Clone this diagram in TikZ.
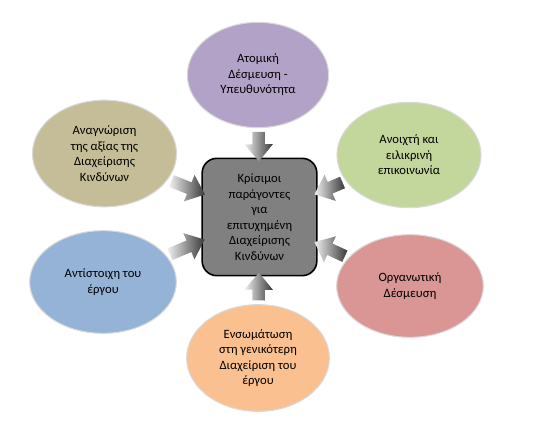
\documentclass[tikz,border=0pt]{standalone}
\usepackage{fontspec}
\setmainfont{Carlito}
\usetikzlibrary{shapes.geometric, shapes.arrows, calc}
\definecolor{hubgray}{HTML}{808080}
\definecolor{purplefill}{HTML}{B3A2C7}
\definecolor{tanfill}{HTML}{C4BD97}
\definecolor{greenfill}{HTML}{C3D69B}
\definecolor{bluefill}{HTML}{95B3D7}
\definecolor{redfill}{HTML}{D99694}
\definecolor{orangefill}{HTML}{FAC090}
\tikzset{
  hub/.style={draw=black, line width=1.2pt, rounded corners=11pt, fill=hubgray,
              minimum width=86pt, minimum height=88pt, align=center, inner sep=2pt,
              font=\fontsize{9.5}{11.6}\selectfont},
  factor/.style={ellipse, draw=gray!30, line width=0.8pt, align=center, inner sep=0pt,
                 font=\fontsize{9.5}{11.6}\selectfont},
  flow/.style={single arrow, draw=none, inner xsep=0pt, inner ysep=4.5pt,
               single arrow head extend=6pt, single arrow tip angle=80,
               left color=gray!12, right color=black!78},
}
% block arrow from the border of #1 to the border of #2
\newcommand{\flowarrow}[2]{%
  \path let \p1=(#1.center), \p2=(#2.center),
            \n1={int(round(atan2(\y2-\y1,\x2-\x1)))}, \n3={int(\n1+180)},
            \p3=(#1.\n1), \p4=(#2.\n3),
            \n2={veclen(\x4-\x3,\y4-\y3)} in
    node[flow, rotate=\n1, minimum height=\n2] at ($(\p3)!0.5!(\p4)$) {};}

\begin{document}
\begin{tikzpicture}[x=0.75pt, y=-0.75pt]
  \useasboundingbox (0,0) rectangle (534,434);
  \node[hub] (hub) at (259.5,217)
    {Κρίσιμοι\\παράγοντες\\για\\επιτυχημένη\\Διαχείρισης\\Κινδύνων};
  \node[factor, fill=purplefill, minimum width=106pt, minimum height=79pt] (atom) at (258,75)
    {Ατομική\\Δέσμευση -\\Υπευθυνότητα};
  \node[factor, fill=tanfill, minimum width=108pt, minimum height=80pt] (value) at (104.5,153.5)
    {Αναγνώριση\\της αξίας της\\Διαχείρισης\\Κινδύνων};
  \node[factor, fill=greenfill, minimum width=108pt, minimum height=79pt] (comm) at (409,155)
    {Ανοιχτή και\\ειλικρινή\\επικοινωνία};
  \node[factor, fill=bluefill, minimum width=110pt, minimum height=77pt] (match) at (103,282)
    {Αντίστοιχη του\\έργου};
  \node[factor, fill=redfill, minimum width=110pt, minimum height=77pt] (org) at (410,286)
    {Οργανωτική\\Δέσμευση};
  \node[factor, fill=orangefill, minimum width=107pt, minimum height=80pt] (integ) at (258,358)
    {Ενσωμάτωση\\στη γενικότερη\\Διαχείριση του\\έργου};
  \foreach \src in {atom, value, comm, match, org, integ}
    \flowarrow{\src}{hub};
\end{tikzpicture}
\end{document}
